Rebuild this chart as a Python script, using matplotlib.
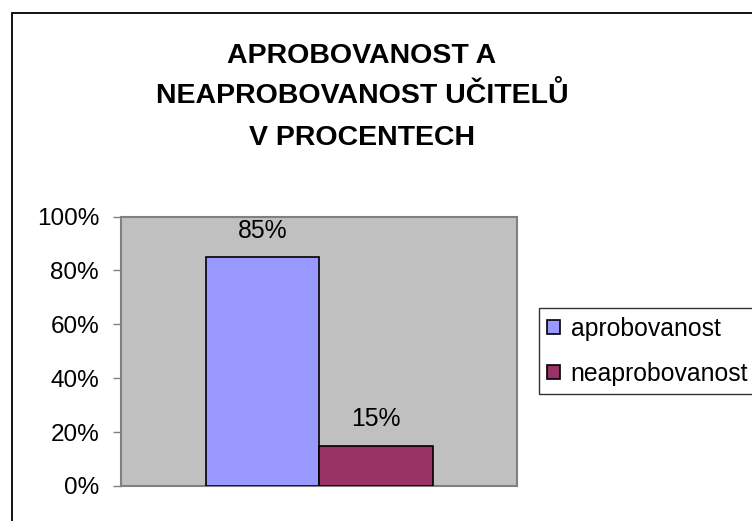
import matplotlib
matplotlib.use("Agg")
import matplotlib.pyplot as plt
from matplotlib.patches import Rectangle
from matplotlib.ticker import FuncFormatter

plt.rcParams['font.family'] = ['Liberation Sans', 'DejaVu Sans']

title_lines = ["APROBOVANOST A", "NEAPROBOVANOST UČITELŮ", "V PROCENTECH"]
series = ["aprobovanost", "neaprobovanost"]
values = [85, 15]
labels = ["85%", "15%"]
colors = ["#9999FF", "#993366"]
yticks = [0, 20, 40, 60, 80, 100]

W, H = 752, 521
fig = plt.figure(figsize=(W / 100, H / 100), dpi=100)

# outer chart border
fig.patches.append(Rectangle((11.5 / W, -0.1), 2.0, 1.1 - 13 / H, transform=fig.transFigure,
                             fill=False, edgecolor="black", linewidth=1.3))

ax = fig.add_axes([121 / W, 1 - 486 / H, (517 - 121) / W, (486 - 216.5) / H])
ax.set_facecolor("#C0C0C0")
for s in ax.spines.values():
    s.set_color("#808080")
    s.set_linewidth(1.5)

bw = 113.5 / 396
offsets = [-bw / 2, bw / 2]
for i, (name, v) in enumerate(zip(series, values)):
    ax.bar(offsets[i], v, width=bw, color=colors[i], edgecolor="black", linewidth=1.2,
           label=name, zorder=3)
    ax.text(offsets[i], v + 7.2, labels[i], ha="center", va="baseline", fontsize=17.8, color="black")

ax.set_xlim(-0.5, 0.5)
ax.set_ylim(0, 100)
ax.set_yticks(yticks)
ax.yaxis.set_major_formatter(FuncFormatter(lambda v, p: f"{int(v)}%"))
ax.tick_params(axis="y", direction="out", length=5.8, width=1, color="#808080", labelsize=17.5, pad=10)
ax.set_xticks([])

baselines = [63.3, 103.3, 145.0]
for line, yb in zip(title_lines, baselines):
    fig.text(362 / W, 1 - yb / H, line, ha="center", va="baseline", fontsize=20.5, fontweight="bold")

leg = fig.legend(loc="upper left", bbox_to_anchor=(539 / W, 1 - 308.3 / H), bbox_transform=fig.transFigure,
                 fontsize=17.8, frameon=True, fancybox=False, borderaxespad=0, borderpad=0.34,
                 handlelength=0.49, handleheight=0.49, handletextpad=0.45, labelspacing=0.85)
leg.get_frame().set_edgecolor("black")
leg.get_frame().set_linewidth(1.0)

fig.savefig("out.png", dpi=100)
